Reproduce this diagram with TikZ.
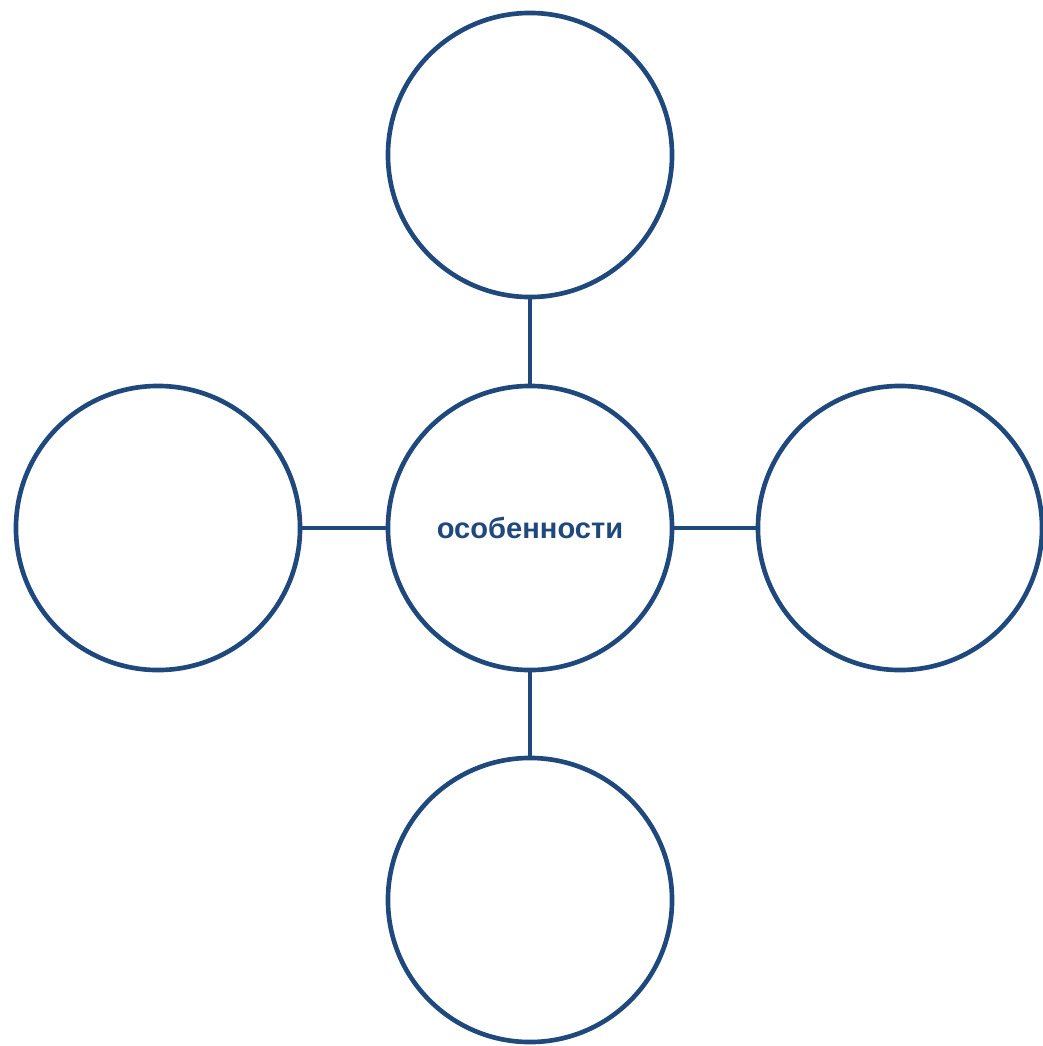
\documentclass[tikz,border=0pt]{standalone}
\usepackage{fontspec}
\setmainfont{Liberation Sans}
\definecolor{bleufonce}{RGB}{31,73,125}
\tikzset{
bulle/.style={circle, draw=bleufonce, line width=3.3pt, fill=white, minimum size=7.1cm, inner sep=0pt},
lien/.style={draw=bleufonce, line width=3.3pt}
}
\begin{document}
\begin{tikzpicture}[x=0.025cm,y=-0.025cm]

% Cadre
\useasboundingbox
(0,0)
rectangle
(1043,1046);

% Bulles
\node[bulle]
(centre)
at (530,528)
{\fontsize{20.7}{24}\selectfont\bfseries\color{bleufonce}особенности};

\node[bulle]
(haut)
at (530,155)
{};

\node[bulle]
(bas)
at (530,900)
{};

\node[bulle]
(gauche)
at (158,528)
{};

\node[bulle]
(droite)
at (900,528)
{};

% Liens
\draw[lien] (centre) -- (haut);
\draw[lien] (centre) -- (bas);
\draw[lien] (centre) -- (gauche);
\draw[lien] (centre) -- (droite);

\end{tikzpicture}
\end{document}
